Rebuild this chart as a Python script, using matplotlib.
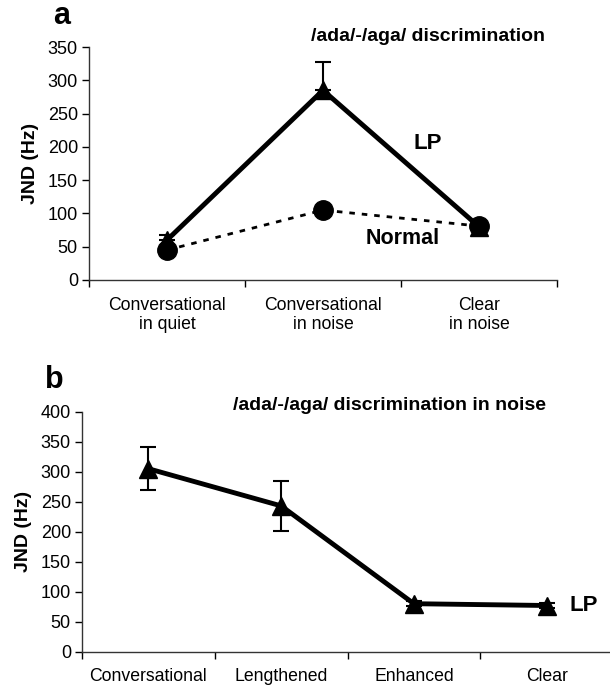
import matplotlib
matplotlib.use("Agg")
import matplotlib.pyplot as plt

plt.rcParams['font.family'] = ['Liberation Sans', 'DejaVu Sans']

# Panel a data
cats_a = ["Conversational\nin quiet", "Conversational\nin noise", "Clear\nin noise"]
lp_a = [60, 285, 80]
lp_a_err = [8, 43, 4]
normal_a = [45, 105, 81]
yticks_a = [0, 50, 100, 150, 200, 250, 300, 350]

# Panel b data
cats_b = ["Conversational", "Lengthened", "Enhanced", "Clear"]
lp_b = [305, 243, 80, 77]
lp_b_err = [36, 41, 4, 4]
yticks_b = [0, 50, 100, 150, 200, 250, 300, 350, 400]

fig = plt.figure(figsize=(6.10, 6.86), dpi=100)

def style(ax):
    for s in ['top', 'right']:
        ax.spines[s].set_visible(False)
    for s in ['left', 'bottom']:
        ax.spines[s].set_color('#333333')
        ax.spines[s].set_linewidth(1.0)
    ax.tick_params(axis='y', direction='out', length=5, width=1, labelsize=13, pad=3)
    ax.tick_params(axis='x', which='major', direction='out', length=5, width=1, labelsize=0)
    ax.tick_params(axis='x', which='minor', length=0, labelsize=12.7, pad=12)

# ---- Panel a ----
ax1 = fig.add_axes([89/610, 1-280/686, (557-89)/610, (280-47)/686])
xa = [i + 0.5 for i in range(len(cats_a))]
ax1.plot(xa, normal_a, linestyle=(0, (2, 2.5)), color='black', lw=2,
         marker='o', markersize=14, zorder=3)
ax1.errorbar(xa, lp_a, yerr=[[0]*len(lp_a), lp_a_err], color='black', lw=3.5,
             marker='^', markersize=13, capsize=6, elinewidth=1.5, capthick=1.5, zorder=4)
ax1.set_xlim(0, len(cats_a))
ax1.set_ylim(0, 350)
ax1.set_yticks(yticks_a)
ax1.set_xticks(range(len(cats_a) + 1))
ax1.set_xticklabels([])
ax1.set_xticks(xa, minor=True)
ax1.set_xticklabels(cats_a, minor=True)
style(ax1)
ax1.set_ylabel("JND (Hz)", fontsize=14, fontweight='bold', labelpad=6)
ax1.text(2.17, 366, "/ada/-/aga/ discrimination", fontsize=14, fontweight='bold',
         ha='center', va='center', clip_on=False)
ax1.text(2.17, 205, "LP", fontsize=16, fontweight='bold', ha='center', va='center')
ax1.text(2.01, 63, "Normal", fontsize=15.5, fontweight='bold', ha='center', va='center')
fig.text(62/610, 1-16/686, "a", fontsize=22, fontweight='bold', ha='center', va='center')

# ---- Panel b ----
ax2 = fig.add_axes([82/610, 1-651.7/686, (613-82)/610, (651.7-411.7)/686])
xb = [i + 0.5 for i in range(len(cats_b))]
ax2.errorbar(xb, lp_b, yerr=lp_b_err, color='black', lw=3.5,
             marker='^', markersize=13, capsize=6, elinewidth=1.5, capthick=1.5, zorder=4)
ax2.set_xlim(0, len(cats_b))
ax2.set_ylim(0, 400)
ax2.set_yticks(yticks_b)
ax2.set_xticks(range(len(cats_b) + 1))
ax2.set_xticklabels([])
ax2.set_xticks(xb, minor=True)
ax2.set_xticklabels(cats_b, minor=True)
style(ax2)
ax2.set_ylabel("JND (Hz)", fontsize=14, fontweight='bold', labelpad=6)
ax2.text(2.32, 411, "/ada/-/aga/ discrimination in noise", fontsize=14, fontweight='bold',
         ha='center', va='center', clip_on=False)
ax2.text(3.78, 77, "LP", fontsize=16, fontweight='bold', ha='center', va='center')
fig.text(54/610, 1-380/686, "b", fontsize=22, fontweight='bold', ha='center', va='center')

fig.savefig("out.png", dpi=100)
